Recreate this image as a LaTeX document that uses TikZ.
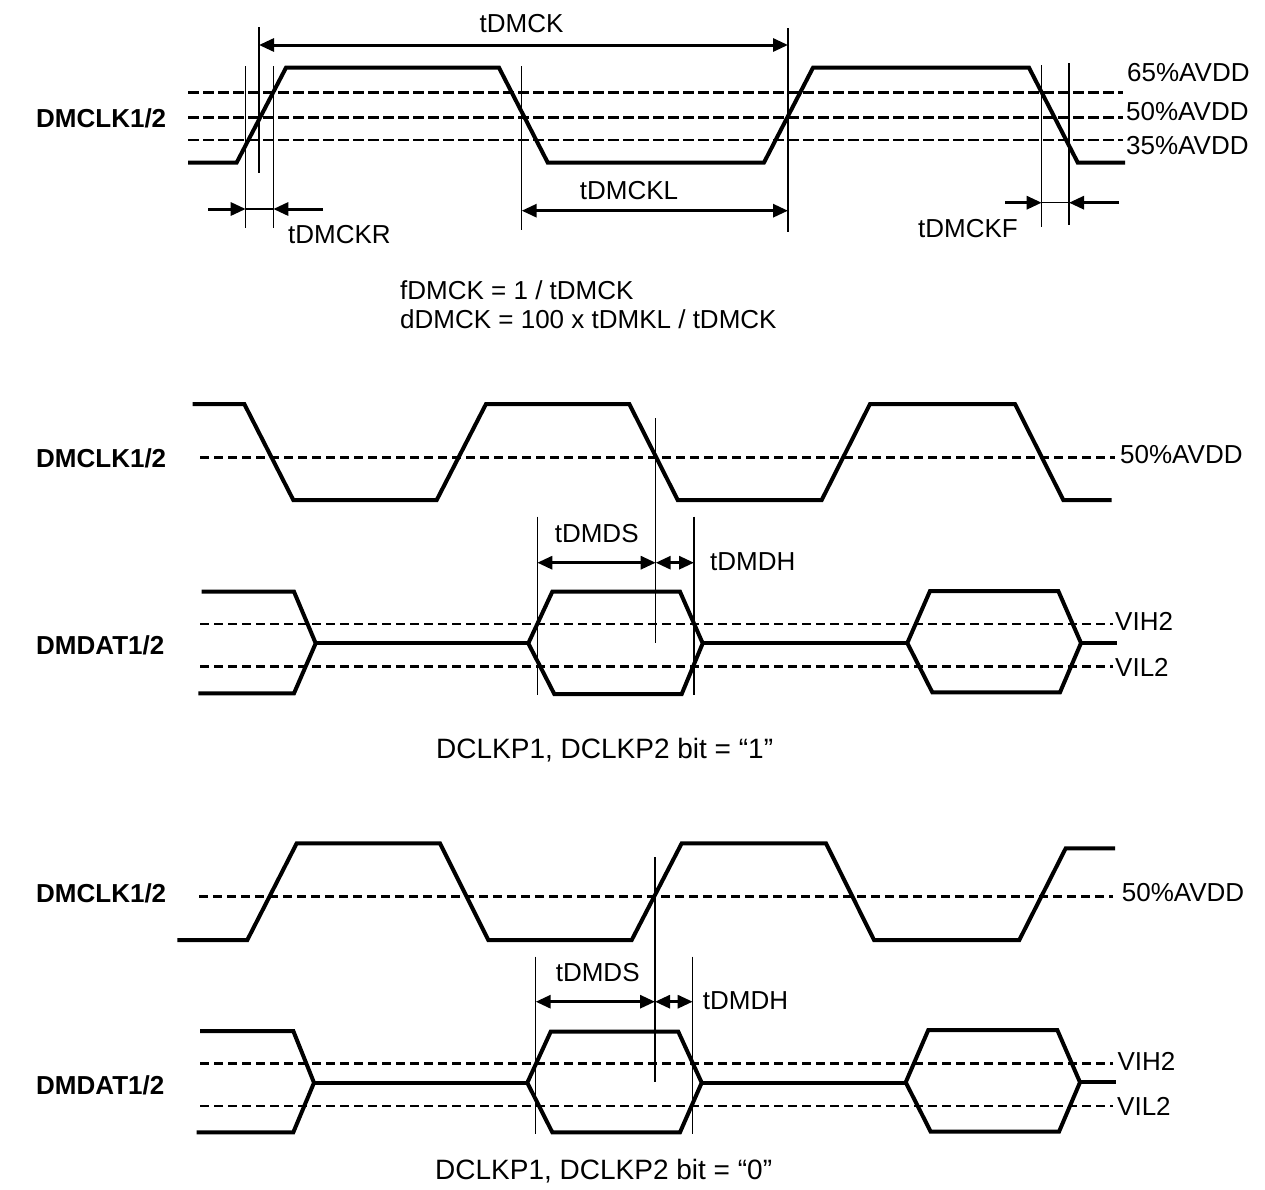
\documentclass[tikz,border=0pt]{standalone}
\usepackage{fontspec}
\setmainfont{Liberation Sans}
\usetikzlibrary{arrows.meta}
\begin{document}
\begin{tikzpicture}[x=1pt,y=-1pt,
  sig/.style={line width=4pt, line join=miter, miter limit=6},
  guide/.style={line width=1.3pt},
  lvl/.style={line width=2.6pt, dash pattern=on 9pt off 5pt},
  lvltop/.style={line width=2.6pt, dash pattern=on 11pt off 4pt},
  dimboth/.style={line width=3pt, {Triangle[length=15pt,width=13pt]}-{Triangle[length=15pt,width=13pt]}},
  dimin/.style={line width=3pt, -{Triangle[length=15pt,width=13pt]}},
  lbl/.style={inner sep=0pt, font=\fontsize{26}{30}\selectfont},
  caplbl/.style={inner sep=0pt, font=\fontsize{28}{32}\selectfont},
  blbl/.style={inner sep=0pt, font=\fontsize{26}{30}\selectfont\bfseries}]
\fill[white] (0,0) rectangle (1265,1189);
\useasboundingbox (0,0) rectangle (1265,1189);

% ================= Section 1 =================
\draw[lvltop] (188,92.7) -- (1123,92.7);
\draw[lvltop] (188,117.3) -- (1123,117.3);
\draw[lvltop] (188,140) -- (1123,140);
\draw[sig] (188,162.5) -- (236.7,162.5) -- (286,67.7) -- (499,67.7) -- (547.7,162.5)
  -- (764,162.5) -- (813,67.7) -- (1029,67.7) -- (1077.7,162.5) -- (1125,162.5);

% guide lines
\coordinate (r35t) at (245.7,66);   \coordinate (r35b) at (245.7,228);
\coordinate (r50t) at (259,27);     \coordinate (r50b) at (259,173);
\coordinate (r65t) at (273.3,66);   \coordinate (r65b) at (273.3,228);
\coordinate (f50t) at (521.7,66);   \coordinate (f50b) at (521.7,230);
\coordinate (q50t) at (788,28);     \coordinate (q50b) at (788,232);
\coordinate (g65t) at (1041.7,65);  \coordinate (g65b) at (1041.7,227);
\coordinate (g35t) at (1069,63);    \coordinate (g35b) at (1069,225);
\foreach \a/\b in {r35t/r35b, r50t/r50b, r65t/r65b, f50t/f50b, q50t/q50b, g65t/g65b, g35t/g35b}
  \draw[guide] (\a) -- (\b);

% tDMCK
\coordinate (ckL) at (259,45); \coordinate (ckR) at (788,45);
\draw[dimboth] (ckL) -- (ckR);
\node[lbl, anchor=base] (tDMCK) at (521.5,32) {tDMCK};
% tDMCKL
\coordinate (clL) at (521.7,210.7); \coordinate (clR) at (788,210.7);
\draw[dimboth] (clL) -- (clR);
\node[lbl, anchor=base] (tDMCKL) at (629,199.5) {tDMCKL};
% tDMCKR
\coordinate (crA) at (208,209); \coordinate (crB) at (245.7,209);
\coordinate (crC) at (273.3,209); \coordinate (crD) at (323,209);
\draw[dimin] (crA) -- (crB);
\draw[dimin] (crD) -- (crC);
\draw[guide] (crB) -- (crC);
\node[lbl, anchor=base west] (tDMCKR) at (288,243) {tDMCKR};
% tDMCKF
\coordinate (cfA) at (1005,202.7); \coordinate (cfB) at (1041.7,202.7);
\coordinate (cfC) at (1069,202.7); \coordinate (cfD) at (1119,202.7);
\draw[dimin] (cfA) -- (cfB);
\draw[dimin] (cfD) -- (cfC);
\draw[guide] (cfB) -- (cfC);
\node[lbl, anchor=base west] (tDMCKF) at (918,237) {tDMCKF};

\node[lbl, anchor=base west] (l65) at (1127,81.7) {65\%AVDD};
\node[lbl, anchor=base west] (l50a) at (1126,120.7) {50\%AVDD};
\node[lbl, anchor=base west] (l35) at (1126,154) {35\%AVDD};
\node[blbl, anchor=base west] (clk1) at (36,127) {DMCLK1/2};

\node[lbl, anchor=base west] (f1) at (400,299.3) {fDMCK = 1 / tDMCK};
\node[lbl, anchor=base west] (f2) at (400,328.3) {dDMCK = 100 x tDMKL / tDMCK};

% ================= Section 2 =================
\draw[lvl] (200,457.3) -- (1115,457.3);
\draw[sig] (192.7,404) -- (244.3,404) -- (293.3,500) -- (436.7,500) -- (486,404) -- (629.3,404)
  -- (677.7,500) -- (821.7,500) -- (870,404) -- (1015,404) -- (1063.3,500) -- (1111.7,500);
\node[lbl, anchor=base west] (l50b) at (1120,463) {50\%AVDD};
\node[blbl, anchor=base west] (clk2) at (36,467) {DMCLK1/2};

\coordinate (e2t) at (655.7,418); \coordinate (e2b) at (655.7,643);
\draw[guide] (e2t) -- (e2b);
\coordinate (s2t) at (537.3,516.7); \coordinate (s2b) at (537.3,695);
\coordinate (h2t) at (694,516.7);   \coordinate (h2b) at (694,695);
\draw[guide] (s2t) -- (s2b);
\draw[guide] (h2t) -- (h2b);
\coordinate (a2L) at (537.3,562.7); \coordinate (a2M) at (655.7,562.7); \coordinate (a2R) at (694,562.7);
\draw[dimboth] (a2L) -- (a2M);
\draw[dimboth] (a2M) -- (a2R);
\node[lbl, anchor=base] (tDMDS2) at (596.7,542.7) {tDMDS};
\node[lbl, anchor=base west] (tDMDH2) at (710,570.7) {tDMDH};

\draw[lvl] (200,624) -- (1113,624);
\draw[lvl] (200,666.7) -- (1113,666.7);
\draw[sig] (201.7,591.7) -- (294,591.7) -- (315.7,643.3) -- (294,693.3) -- (198.3,693.3);
\draw[sig] (315.7,643.3) -- (528.3,643.3);
\draw[sig] (528.3,643.3) -- (552.3,591.7) -- (680,591.7) -- (702.7,643.3) -- (681.7,694) -- (554.3,694) -- cycle;
\draw[sig] (702.7,643.3) -- (907.3,643.3);
\draw[sig] (907.3,643) -- (930,591) -- (1058.3,591) -- (1081,643) -- (1060,692.3) -- (932.3,692.3) -- cycle;
\draw[sig] (1081,643) -- (1117.3,643);
\node[lbl, anchor=base west] (vih2) at (1115,630.7) {VIH2};
\node[lbl, anchor=base west] (vil2) at (1115,676.7) {VIL2};
\node[blbl, anchor=base west] (dat2) at (36,654) {DMDAT1/2};
\node[caplbl, anchor=base west] (cap1) at (436,758) {DCLKP1, DCLKP2 bit = “1”};

% ================= Section 3 =================
\draw[lvl] (199.3,896.7) -- (1113,896.7);
\draw[sig] (177.3,940) -- (247.3,940) -- (296.7,843.3) -- (440,843.3) -- (488.3,940) -- (631.7,940)
  -- (681.7,843.3) -- (826,843.3) -- (874,940) -- (1019.3,940) -- (1065.7,848.3) -- (1115,848.3);
\node[lbl, anchor=base west] (l50c) at (1121.7,901.7) {50\%AVDD};
\node[blbl, anchor=base west] (clk3) at (36,902) {DMCLK1/2};

\coordinate (e3t) at (655,857.3); \coordinate (e3b) at (655,1081.7);
\draw[guide] (e3t) -- (e3b);
\coordinate (s3t) at (535.7,956.7); \coordinate (s3b) at (535.7,1134);
\coordinate (h3t) at (692.7,956.7); \coordinate (h3b) at (692.7,1134);
\draw[guide] (s3t) -- (s3b);
\draw[guide] (h3t) -- (h3b);
\coordinate (a3L) at (535.7,1001.7); \coordinate (a3M) at (655,1001.7); \coordinate (a3R) at (692.7,1001.7);
\draw[dimboth] (a3L) -- (a3M);
\draw[dimboth] (a3M) -- (a3R);
\node[lbl, anchor=base] (tDMDS3) at (597.7,981.7) {tDMDS};
\node[lbl, anchor=base west] (tDMDH3) at (702.7,1009.3) {tDMDH};

\draw[lvl] (200,1063.3) -- (1113,1063.3);
\draw[lvl] (200,1106) -- (1113,1106);
\draw[sig] (200,1031) -- (293.3,1031) -- (314,1082.7) -- (293.3,1132.3) -- (196.7,1132.3);
\draw[sig] (314,1082.7) -- (527.3,1082.7);
\draw[sig] (527.3,1082.7) -- (550.7,1031.7) -- (678.3,1031.7) -- (701.7,1082.7) -- (680,1132.3) -- (552.3,1132.3) -- cycle;
\draw[sig] (701.7,1082.7) -- (905.7,1082.7);
\draw[sig] (905.7,1082.3) -- (928.3,1030) -- (1057.3,1030) -- (1080,1082.3) -- (1059,1131.7) -- (930.7,1131.7) -- cycle;
\draw[sig] (1080,1082.3) -- (1116,1082.3);
\node[lbl, anchor=base west] (vih3) at (1117.3,1070) {VIH2};
\node[lbl, anchor=base west] (vil3) at (1117,1115) {VIL2};
\node[blbl, anchor=base west] (dat3) at (36,1094) {DMDAT1/2};
\node[caplbl, anchor=base west] (cap2) at (435,1179) {DCLKP1, DCLKP2 bit = “0”};
\end{tikzpicture}
\end{document}
